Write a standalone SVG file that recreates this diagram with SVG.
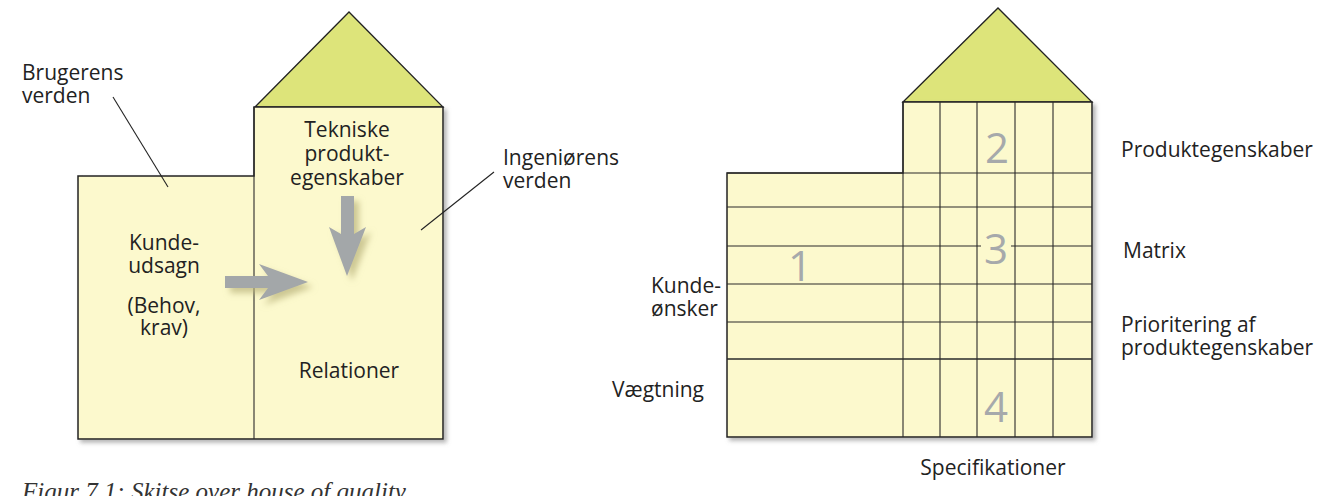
<svg xmlns="http://www.w3.org/2000/svg" width="1334" height="496" viewBox="0 0 1334 496">
<style>
  .box { fill: #fcf9cd; stroke: #222; stroke-width: 1.5; }
  .roof { fill: #dde47a; stroke: #222; stroke-width: 1.3; stroke-linejoin: miter; }
  .grid { stroke: #2a2a2a; stroke-width: 1.1; fill: none; }
  .lead { stroke: #222; stroke-width: 1.1; fill: none; }
  .t { font-family: "Open Sans", "Liberation Sans", sans-serif; font-size: 21px; fill: #222; }
  .c { text-anchor: middle; }
  .num { font-family: "Open Sans", "Liberation Sans", sans-serif; font-size: 42px; fill: #a6a9ab; text-anchor: middle; }
  .arrow { fill: #a3a7a9; }
  .cap { font-family: "Liberation Serif", serif; font-style: italic; font-size: 25px; fill: #333; }
</style>
<defs>
  <filter id="sh" x="-5%" y="-5%" width="115%" height="115%">
    <feDropShadow dx="3" dy="3" stdDeviation="2" flood-color="#777" flood-opacity="0.55"/>
  </filter>
  <filter id="ash" x="-30%" y="-30%" width="170%" height="170%">
    <feDropShadow dx="5" dy="5" stdDeviation="3" flood-color="#b8b27a" flood-opacity="0.7"/>
  </filter>
</defs>
<rect width="1334" height="496" fill="#ffffff"/>

<!-- Left house -->
<g id="left-house">
  <polygon class="roof" points="255,107 349,12 443,107"/>
  <path class="box" filter="url(#sh)" d="M78,176 H254 V107 H443 V439 H78 Z"/>
  <line class="grid" x1="254" y1="107" x2="254" y2="439"/>
  <text class="t c" x="347" y="137">Tekniske</text>
  <text class="t c" x="347" y="161">produkt-</text>
  <text class="t c" x="347" y="185">egenskaber</text>
  <text class="t c" x="164" y="250">Kunde-</text>
  <text class="t c" x="164" y="273">udsagn</text>
  <text class="t c" x="164" y="313">(Behov,</text>
  <text class="t c" x="164" y="335">krav)</text>
  <text class="t c" x="349" y="378">Relationer</text>
</g>

<g id="label-brugerens">
  <text class="t" x="22" y="80">Brugerens</text>
  <text class="t" x="22" y="103">verden</text>
</g>
<g id="label-ingenioerens">
  <text class="t" x="503" y="165">Ingeniørens</text>
  <text class="t" x="503" y="188">verden</text>
</g>

<!-- Right house -->
<g id="right-house">
  <polygon class="roof" points="903,102 998,8 1092,102"/>
  <path class="box" filter="url(#sh)" d="M727,173 H903 V102 H1092 V437 H727 Z"/>
  <g class="grid">
    <line x1="903" y1="102" x2="903" y2="437"/>
    <line x1="940" y1="102" x2="940" y2="437"/>
    <line x1="977" y1="102" x2="977" y2="437"/>
    <line x1="1015" y1="102" x2="1015" y2="437"/>
    <line x1="1053" y1="102" x2="1053" y2="437"/>
    <line x1="727" y1="173" x2="1092" y2="173"/>
    <line x1="727" y1="207" x2="1092" y2="207"/>
    <line x1="727" y1="246" x2="981" y2="246"/>
    <line x1="1011" y1="246" x2="1092" y2="246"/>
    <line x1="727" y1="284" x2="1092" y2="284"/>
    <line x1="727" y1="322" x2="1092" y2="322"/>
    <line x1="727" y1="359" x2="1092" y2="359" stroke-width="1.5"/>
  </g>
  <text class="num" x="800" y="281">1</text>
  <text class="num" x="997" y="163">2</text>
  <text class="num" x="996" y="264">3</text>
  <text class="num" x="996" y="422">4</text>
</g>

<g id="labels-right">
  <text class="t" x="1121" y="157">Produktegenskaber</text>
  <text class="t" x="1123" y="258">Matrix</text>
  <text class="t" x="1121" y="332">Prioritering af</text>
  <text class="t" x="1121" y="355">produktegenskaber</text>
  <text class="t" x="651" y="293">Kunde-</text>
  <text class="t" x="651" y="316">ønsker</text>
  <text class="t" x="612" y="397">Vægtning</text>
  <text class="t c" x="993" y="475">Specifikationer</text>
</g>

<!-- Connectors -->
<g id="connectors">
  <line class="lead" x1="113" y1="97" x2="168" y2="187"/>
  <line class="lead" x1="494" y1="172" x2="421" y2="230"/>
  <g filter="url(#ash)">
    <polygon class="arrow" points="341,196 354,196 354,234 366,227 347,276 329,227 341,234"/>
    <polygon class="arrow" points="225,276 268,276 259,264 308,282 259,300 268,288 225,288"/>
  </g>
</g>

<text class="cap" x="22" y="500">Figur 7.1: Skitse over house of quality</text>
</svg>
